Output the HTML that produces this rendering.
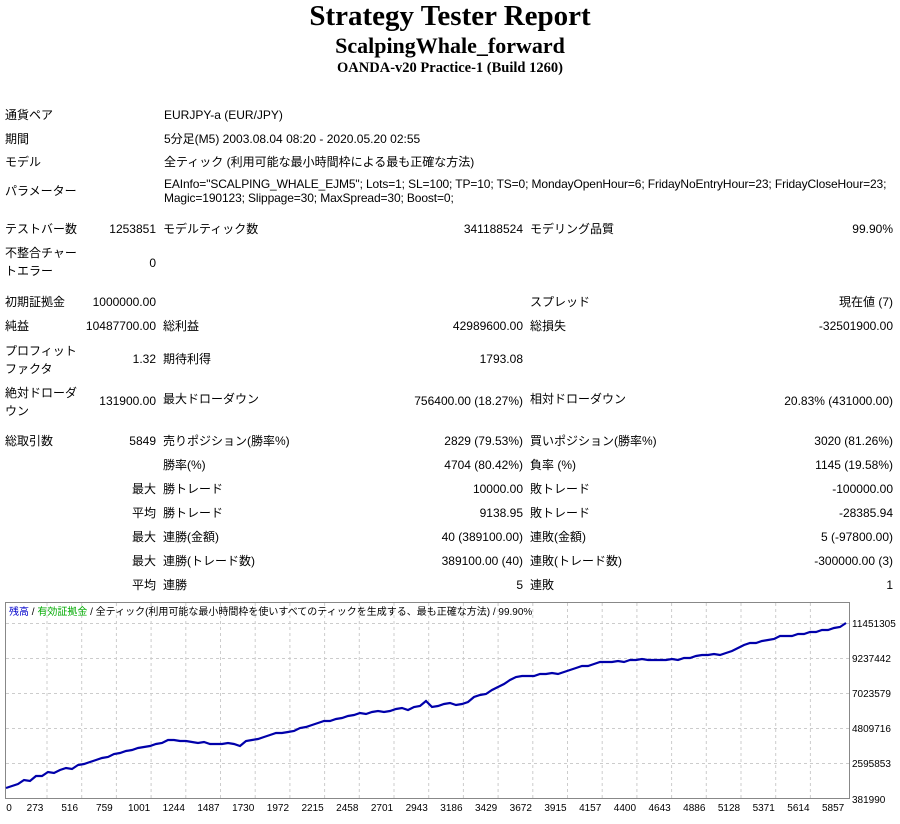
<!DOCTYPE html>
<html><head><meta charset="utf-8"><style>
body{margin:0;width:900px;height:824px;background:#fff;position:relative;overflow:hidden;font-family:"Liberation Sans","Noto Sans CJK JP",sans-serif;font-size:12px;color:#000}
.t{position:absolute;white-space:nowrap;line-height:14px}
.r{text-align:right}
.c{position:absolute;left:0;width:900px;text-align:center;font-family:"Liberation Serif",serif;font-weight:bold}
</style></head><body>
<div class="c" style="top:0px;font-size:29px">Strategy Tester Report</div>
<div class="c" style="top:33px;font-size:22px">ScalpingWhale_forward</div>
<div class="c" style="top:60px;font-size:14.5px">OANDA-v20 Practice-1 (Build 1260)</div>

<div class="t" style="left:5px;top:108px">通貨ペア</div><div class="t" style="left:164px;top:108px">EURJPY-a (EUR/JPY)</div>
<div class="t" style="left:5px;top:132px">期間</div><div class="t" style="left:164px;top:132px">5分足(M5) 2003.08.04 08:20 - 2020.05.20 02:55</div>
<div class="t" style="left:5px;top:155px">モデル</div><div class="t" style="left:164px;top:155px">全ティック (利用可能な最小時間枠による最も正確な方法)</div>
<div class="t" style="left:5px;top:184px">パラメーター</div><div class="t" style="left:164px;top:177px;letter-spacing:-0.12px">EAInfo="SCALPING_WHALE_EJM5"; Lots=1; SL=100; TP=10; TS=0; MondayOpenHour=6; FridayNoEntryHour=23; FridayCloseHour=23;<br>Magic=190123; Slippage=30; MaxSpread=30; Boost=0;</div>

<div class="t" style="left:5px;top:222px">テストバー数</div><div class="t r" style="right:744px;top:222px">1253851</div><div class="t" style="left:163px;top:222px">モデルティック数</div><div class="t r" style="right:377px;top:222px">341188524</div><div class="t" style="left:530px;top:222px">モデリング品質</div><div class="t r" style="right:7px;top:222px">99.90%</div>
<div class="t" style="left:5px;top:244px;line-height:18px">不整合チャー<br>トエラー</div><div class="t r" style="right:744px;top:256px">0</div>

<div class="t" style="left:5px;top:295px">初期証拠金</div><div class="t r" style="right:744px;top:295px">1000000.00</div><div class="t" style="left:530px;top:295px">スプレッド</div><div class="t r" style="right:7px;top:295px">現在値 (7)</div>
<div class="t" style="left:5px;top:319px">純益</div><div class="t r" style="right:744px;top:319px">10487700.00</div><div class="t" style="left:163px;top:319px">総利益</div><div class="t r" style="right:377px;top:319px">42989600.00</div><div class="t" style="left:530px;top:319px">総損失</div><div class="t r" style="right:7px;top:319px">-32501900.00</div>
<div class="t" style="left:5px;top:342px;line-height:18px">プロフィット<br>ファクタ</div><div class="t r" style="right:744px;top:352px">1.32</div><div class="t" style="left:163px;top:352px">期待利得</div><div class="t r" style="right:377px;top:352px">1793.08</div>
<div class="t" style="left:5px;top:384px;line-height:18px">絶対ドローダ<br>ウン</div><div class="t r" style="right:744px;top:394px">131900.00</div><div class="t" style="left:163px;top:392px">最大ドローダウン</div><div class="t r" style="right:377px;top:394px">756400.00 (18.27%)</div><div class="t" style="left:530px;top:392px">相対ドローダウン</div><div class="t r" style="right:7px;top:394px">20.83% (431000.00)</div>

<div class="t" style="left:5px;top:434px">総取引数</div><div class="t r" style="right:744px;top:434px">5849</div><div class="t" style="left:163px;top:434px">売りポジション(勝率%)</div><div class="t r" style="right:377px;top:434px">2829 (79.53%)</div><div class="t" style="left:530px;top:434px">買いポジション(勝率%)</div><div class="t r" style="right:7px;top:434px">3020 (81.26%)</div>
<div class="t" style="left:163px;top:458px">勝率(%)</div><div class="t r" style="right:377px;top:458px">4704 (80.42%)</div><div class="t" style="left:530px;top:458px">負率 (%)</div><div class="t r" style="right:7px;top:458px">1145 (19.58%)</div>
<div class="t r" style="right:744px;top:482px">最大</div><div class="t" style="left:163px;top:482px">勝トレード</div><div class="t r" style="right:377px;top:482px">10000.00</div><div class="t" style="left:530px;top:482px">敗トレード</div><div class="t r" style="right:7px;top:482px">-100000.00</div>
<div class="t r" style="right:744px;top:506px">平均</div><div class="t" style="left:163px;top:506px">勝トレード</div><div class="t r" style="right:377px;top:506px">9138.95</div><div class="t" style="left:530px;top:506px">敗トレード</div><div class="t r" style="right:7px;top:506px">-28385.94</div>
<div class="t r" style="right:744px;top:530px">最大</div><div class="t" style="left:163px;top:530px">連勝(金額)</div><div class="t r" style="right:377px;top:530px">40 (389100.00)</div><div class="t" style="left:530px;top:530px">連敗(金額)</div><div class="t r" style="right:7px;top:530px">5 (-97800.00)</div>
<div class="t r" style="right:744px;top:554px">最大</div><div class="t" style="left:163px;top:554px">連勝(トレード数)</div><div class="t r" style="right:377px;top:554px">389100.00 (40)</div><div class="t" style="left:530px;top:554px">連敗(トレード数)</div><div class="t r" style="right:7px;top:554px">-300000.00 (3)</div>
<div class="t r" style="right:744px;top:578px">平均</div><div class="t" style="left:163px;top:578px">連勝</div><div class="t r" style="right:377px;top:578px">5</div><div class="t" style="left:530px;top:578px">連敗</div><div class="t r" style="right:7px;top:578px">1</div>

<svg style="position:absolute;left:0;top:598px" width="900" height="226" font-family="Liberation Sans, sans-serif" font-size="10">
<g transform="translate(0,-598)">
<rect x="5.5" y="602.5" width="844" height="196" fill="#fff" stroke="#888"/>
<g stroke="#ccc" stroke-dasharray="3,3">
<line x1="6" x2="849" y1="623.5" y2="623.5"/><line x1="6" x2="849" y1="658.5" y2="658.5"/><line x1="6" x2="849" y1="693.5" y2="693.5"/><line x1="6" x2="849" y1="728.5" y2="728.5"/><line x1="6" x2="849" y1="763.5" y2="763.5"/>
<line x1="47" x2="47" y1="603" y2="798"/><line x1="81.7" x2="81.7" y1="603" y2="798"/><line x1="116.4" x2="116.4" y1="603" y2="798"/><line x1="151.1" x2="151.1" y1="603" y2="798"/><line x1="185.8" x2="185.8" y1="603" y2="798"/><line x1="220.5" x2="220.5" y1="603" y2="798"/><line x1="255.2" x2="255.2" y1="603" y2="798"/><line x1="289.9" x2="289.9" y1="603" y2="798"/><line x1="324.6" x2="324.6" y1="603" y2="798"/><line x1="359.3" x2="359.3" y1="603" y2="798"/><line x1="394" x2="394" y1="603" y2="798"/><line x1="428.7" x2="428.7" y1="603" y2="798"/><line x1="463.4" x2="463.4" y1="603" y2="798"/><line x1="498.1" x2="498.1" y1="603" y2="798"/><line x1="532.8" x2="532.8" y1="603" y2="798"/><line x1="567.5" x2="567.5" y1="603" y2="798"/><line x1="602.2" x2="602.2" y1="603" y2="798"/><line x1="636.9" x2="636.9" y1="603" y2="798"/><line x1="671.6" x2="671.6" y1="603" y2="798"/><line x1="706.3" x2="706.3" y1="603" y2="798"/><line x1="741" x2="741" y1="603" y2="798"/><line x1="775.7" x2="775.7" y1="603" y2="798"/><line x1="810.4" x2="810.4" y1="603" y2="798"/>
</g>
<text x="9" y="615" fill="#00c" font-family="Liberation Sans, Noto Sans CJK JP, sans-serif">残高 <tspan fill="#000">/</tspan> <tspan fill="#0a0">有効証拠金</tspan> <tspan fill="#000">/ 全ティック(利用可能な最小時間枠を使いすべてのティックを生成する、最も正確な方法) / 99.90%</tspan></text>
<polyline fill="none" stroke="#0000aa" stroke-width="2.2" points="6,788 12,786 18,784 24,780 30,781 36,776 42,776 48,772 54,773 60,770 66,768 72,769 78,765 84,764 90,762 96,760 102,758 108,757 114,754 120,753 126,751 132,750 138,748 144,747 150,746 156,744 162,743 168,740 174,740 180,741 186,741 192,742 198,743 204,742 210,744 216,744 222,744 228,743 234,744 240,746 246,741 252,740 258,739 264,737 270,735 276,733 282,733 288,732 294,731 300,728 306,727 312,725 318,723 324,721 330,721 336,719 342,718 348,716 354,715 360,713 366,714 372,712 378,711 384,712 390,711 396,709 402,708 408,710 414,707 420,706 426,701 432,707 438,706 444,704 450,703 456,705 462,704 468,702 474,697 480,695 486,694 492,690 498,687 504,684 510,680 516,677 522,676 528,676 534,676 540,674 546,674 552,673 558,674 564,672 570,670 576,668 582,666 588,666 594,664 600,662 606,662 612,662 618,661 624,662 630,660 636,660 642,659 648,660 654,660 660,660 666,660 672,659 678,660 684,658 690,658 696,656 702,655 708,655 714,654 720,655 726,653 732,651 738,648 744,645 750,643 756,643 762,641 768,640 774,639 780,636 786,636 792,636 798,634 804,634 810,632 816,632 822,630 828,630 834,628 840,627 846,623"/>
<g fill="#000">
<text x="852" y="627">11451305</text><text x="852" y="662">9237442</text><text x="852" y="697">7023579</text><text x="852" y="732">4809716</text><text x="852" y="767">2595853</text><text x="852" y="803">381990</text>
</g>
<g fill="#000" text-anchor="middle">
<text x="9" y="811">0</text><text x="35" y="811">273</text><text x="69.7" y="811">516</text><text x="104.4" y="811">759</text><text x="139.1" y="811">1001</text><text x="173.8" y="811">1244</text><text x="208.5" y="811">1487</text><text x="243.2" y="811">1730</text><text x="277.9" y="811">1972</text><text x="312.6" y="811">2215</text><text x="347.3" y="811">2458</text><text x="382" y="811">2701</text><text x="416.7" y="811">2943</text><text x="451.4" y="811">3186</text><text x="486.1" y="811">3429</text><text x="520.8" y="811">3672</text><text x="555.5" y="811">3915</text><text x="590.2" y="811">4157</text><text x="624.9" y="811">4400</text><text x="659.6" y="811">4643</text><text x="694.3" y="811">4886</text><text x="729" y="811">5128</text><text x="763.7" y="811">5371</text><text x="798.4" y="811">5614</text><text x="833.1" y="811">5857</text>
</g>
</g></svg>
</body></html>
